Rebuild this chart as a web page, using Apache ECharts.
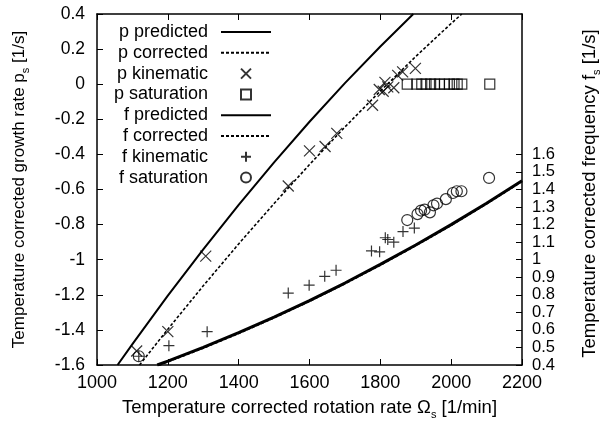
<!DOCTYPE html>
<html>
<head>
<meta charset="utf-8">
<script src="https://cdn.jsdelivr.net/npm/echarts@6/dist/echarts.min.js"></script>
<style>
  html, body { margin: 0; padding: 0; background: #fff; }
  #chart { width: 610px; height: 425px; }
</style>
</head>
<body>
<div id="chart"></div>
<script>
var chartDom = document.getElementById('chart');
var myChart = echarts.init(chartDom);
var option;

// growth rate p (left axis)
var pPredicted = [[1058,-1.6],[1100,-1.481],[1200,-1.205],[1300,-0.941],[1400,-0.687],[1500,-0.445],[1600,-0.214],[1700,0.006],[1800,0.215],[1893,0.4]];
var pCorrected = [[1120,-1.6],[1200,-1.396],[1300,-1.149],[1400,-0.91],[1500,-0.68],[1600,-0.458],[1700,-0.244],[1800,-0.039],[1900,0.158],[2000,0.346],[2030,0.4]];
var pKinematic = [[1112,-1.52],[1200,-1.41],[1307,-0.98],[1540,-0.58],[1600,-0.38],[1644,-0.355],[1677,-0.28],[1778,-0.12],[1797,-0.03],[1808,-0.04],[1813,0.01],[1821,-0.015],[1838,-0.02],[1849,0.05],[1863,0.07],[1899,0.09]];
var pSaturation = [[1876,0],[1903,0],[1917,0],[1929,0],[1942,0],[1953,0],[1967,0],[1981,0],[1995,0],[2008,0],[2017,0],[2030,0],[2109,0]];

// frequency f (right axis)
var fPredicted = [[1170,0.4],[1200,0.422],[1300,0.5],[1400,0.584],[1500,0.673],[1600,0.767],[1700,0.867],[1800,0.973],[1900,1.084],[2000,1.2],[2100,1.322],[2200,1.45]];
var fCorrected = [[1175,0.4],[1200,0.419],[1300,0.497],[1400,0.581],[1500,0.67],[1600,0.764],[1700,0.864],[1800,0.97],[1900,1.081],[2000,1.197],[2100,1.319],[2200,1.447]];
var fKinematic = [[1118,0.45],[1203,0.51],[1311,0.59],[1540,0.81],[1599,0.855],[1643,0.905],[1675,0.94],[1775,1.05],[1798,1.045],[1814,1.125],[1821,1.115],[1838,1.1],[1864,1.16],[1896,1.18]];
var fSaturation = [[1118,0.45],[1876,1.226],[1905,1.26],[1915,1.28],[1925,1.285],[1940,1.27],[1950,1.31],[1960,1.32],[1985,1.345],[2005,1.38],[2016,1.39],[2029,1.39],[2107,1.466]];

var fTicks = [0.4,0.5,0.6,0.7,0.8,0.9,1,1.1,1.2,1.3,1.4,1.5,1.6];

var legendNames = ['p predicted','p corrected','p kinematic','p saturation','f predicted','f corrected','f kinematic','f saturation'];
var lineNames = ['p predicted','p corrected','f predicted','f corrected'];

var FONT = 'Liberation Sans';
var crossSym = 'path://M0,0L10,10M0,10L10,0';
var plusSym = 'path://M5,0L5,10M0,5L10,5';
var squareSym = 'path://M0,0L10,0L10,10L0,10Z';
var hollow = { color: 'transparent', borderColor: '#000', borderWidth: 1.2 };

function richFor(size) {
  return {
    b: { fontFamily: FONT, fontSize: size, color: '#000', lineHeight: 24, verticalAlign: 'middle' },
    s: { fontFamily: FONT, fontSize: 11, color: '#000', lineHeight: 24, verticalAlign: 'bottom' }
  };
}

function plainNum(v) { return String(Math.round(v * 1000) / 1000); }

function tickAxis(extra) {
  var a = {
    axisLine: { show: true, onZero: false, lineStyle: { color: '#000', width: 1.5 } },
    axisTick: { show: true, inside: true, length: 6, lineStyle: { color: '#000', width: 1 } },
    axisLabel: { color: '#000', fontFamily: FONT, fontSize: 17, formatter: plainNum },
    splitLine: { show: false }
  };
  for (var k in extra) a[k] = extra[k];
  return a;
}

var legendData = legendNames.map(function (n) {
  if (lineNames.indexOf(n) >= 0) return { name: n, itemStyle: { opacity: 0 } };
  return { name: n };
});

option = {
  animation: false,
  grid: { left: 97, right: 75, top: 14, bottom: 58, show: false },
  legend: {
    data: legendData,
    orient: 'vertical',
    align: 'right',
    right: 333,
    top: 18,
    itemWidth: 50,
    itemHeight: 10,
    itemGap: 2.8,
    selectedMode: false,
    textStyle: { fontFamily: FONT, fontSize: 18, color: '#000', padding: [0, 8, 0, 0] }
  },
  xAxis: [
    tickAxis({
      type: 'value', min: 1000, max: 2200, interval: 200,
      axisLabel: { color: '#000', fontFamily: FONT, fontSize: 18, margin: 9, formatter: plainNum },
      name: '{b|Temperature corrected rotation rate Ω}{s|s}{b| [1/min]}',
      nameLocation: 'middle', nameGap: 31,
      nameTextStyle: { rich: richFor(18.5) }
    }),
    tickAxis({
      type: 'value', min: 1000, max: 2200, interval: 200, position: 'top',
      axisLabel: { show: false }
    })
  ],
  yAxis: [
    tickAxis({
      type: 'value', min: -1.6, max: 0.4, interval: 0.2,
      axisLabel: { color: '#000', fontFamily: FONT, fontSize: 17.5, margin: 12, formatter: plainNum },
      name: '{b|Temperature corrected growth rate p}{s|s}{b| [1/s]}',
      nameLocation: 'middle', nameGap: 66,
      nameTextStyle: { rich: richFor(17) }
    }),
    tickAxis({
      type: 'value', min: 0.4, max: 2.4, interval: 0.1, position: 'right',
      axisTick: { show: true, inside: true, length: 6, customValues: fTicks, lineStyle: { color: '#000', width: 1 } },
      axisLabel: { color: '#000', fontFamily: FONT, fontSize: 16.5, lineHeight: 12, margin: 10, customValues: fTicks,
        showMinLabel: true, showMaxLabel: true, hideOverlap: false, formatter: plainNum },
      name: '{b|Temperature corrected frequency f}{s|s}{b| [1/s]}',
      nameLocation: 'middle', nameGap: 56,
      nameTextStyle: { rich: richFor(18.5), padding: [0, 8, 0, 0] }
    })
  ],
  series: [
    { name: 'p predicted', type: 'line', data: pPredicted, yAxisIndex: 0, symbol: 'none',
      lineStyle: { color: '#000', width: 2 }, itemStyle: { color: '#000' }, silent: true },
    { name: 'p corrected', type: 'line', data: pCorrected, yAxisIndex: 0, symbol: 'none',
      lineStyle: { color: '#000', width: 1.6, type: [3, 2] }, itemStyle: { color: '#000' }, silent: true },
    { name: 'p kinematic', type: 'scatter', data: pKinematic, yAxisIndex: 0, symbol: crossSym, symbolSize: 11,
      itemStyle: hollow, silent: true },
    { name: 'p saturation', type: 'scatter', data: pSaturation, yAxisIndex: 0, symbol: squareSym, symbolSize: 10,
      itemStyle: hollow, silent: true },
    { name: 'f predicted', type: 'line', data: fPredicted, yAxisIndex: 1, symbol: 'none',
      lineStyle: { color: '#000', width: 3 }, itemStyle: { color: '#000' }, silent: true },
    { name: 'f corrected', type: 'line', data: fCorrected, yAxisIndex: 1, symbol: 'none',
      lineStyle: { color: '#000', width: 2, type: [3, 2] }, itemStyle: { color: '#000' }, silent: true },
    { name: 'f kinematic', type: 'scatter', data: fKinematic, yAxisIndex: 1, symbol: plusSym, symbolSize: 11,
      itemStyle: hollow, silent: true },
    { name: 'f saturation', type: 'scatter', data: fSaturation, yAxisIndex: 1, symbol: 'circle', symbolSize: 11,
      itemStyle: hollow, silent: true }
  ]
};

option && myChart.setOption(option);
</script>
</body>
</html>
